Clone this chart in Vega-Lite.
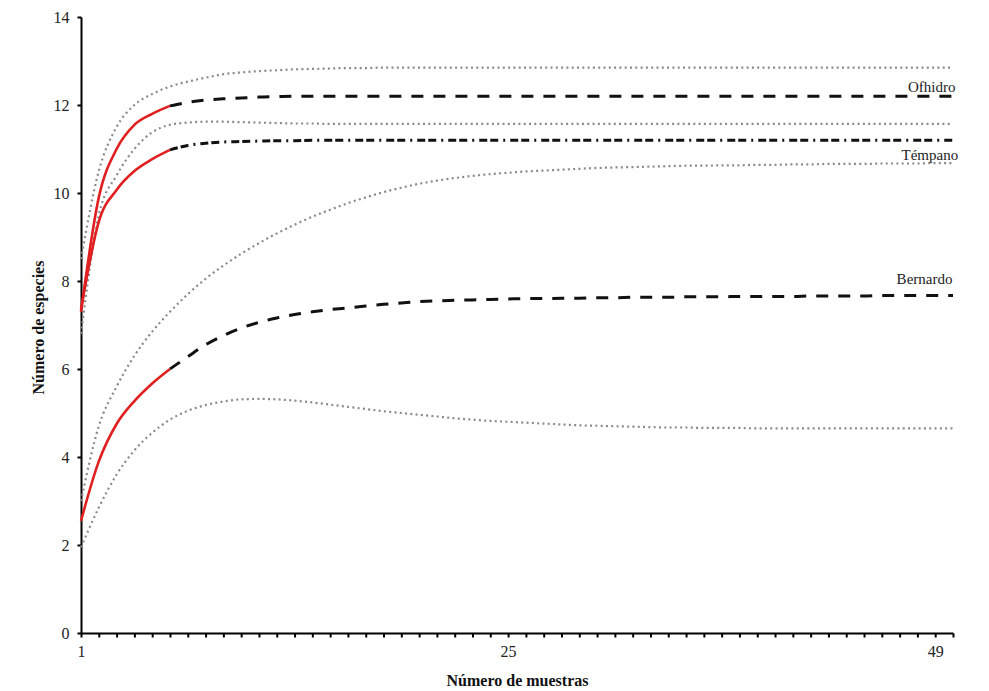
{
  "$schema": "https://vega.github.io/schema/vega-lite/v6.json",
  "width": 872,
  "height": 616,
  "autosize": "none",
  "padding": {"left": 81, "top": 17, "right": 36, "bottom": 58},
  "background": "white",
  "config": {"view": {"stroke": null}, "font": "Liberation Serif"},
  "data": {"values": [
    {"x": 1, "of_obs": 7.3, "te_obs": 7.35, "be_obs": 2.55, "ic1": 8.5, "ic2": 6.8, "ic3": 3.0, "ic4": 1.95},
    {"x": 2, "of_obs": 9.9, "te_obs": 9.35, "be_obs": 3.9, "ic1": 10.5, "ic2": 9.5, "ic3": 4.7, "ic4": 2.85},
    {"x": 3, "of_obs": 11.0, "te_obs": 10.07, "be_obs": 4.75, "ic1": 11.5, "ic2": 10.4, "ic3": 5.6, "ic4": 3.6},
    {"x": 4, "of_obs": 11.55, "te_obs": 10.5, "be_obs": 5.27, "ic1": 12.0, "ic2": 11.0, "ic3": 6.3, "ic4": 4.15},
    {"x": 5, "of_obs": 11.8, "te_obs": 10.77, "be_obs": 5.67, "ic1": 12.25, "ic2": 11.38, "ic3": 6.85, "ic4": 4.55},
    {"x": 6, "of_obs": 11.98, "of_ext": 11.98, "te_obs": 10.98, "te_ext": 10.98, "be_obs": 6.0, "be_ext": 6.0, "ic1": 12.42, "ic2": 11.55, "ic3": 7.3, "ic4": 4.85},
    {"x": 7, "of_ext": 12.06, "te_ext": 11.08, "be_ext": 6.28, "ic1": 12.53, "ic2": 11.6, "ic3": 7.7, "ic4": 5.05},
    {"x": 8, "of_ext": 12.11, "te_ext": 11.13, "be_ext": 6.55, "ic1": 12.62, "ic2": 11.62, "ic3": 8.05, "ic4": 5.18},
    {"x": 9, "of_ext": 12.14, "te_ext": 11.16, "be_ext": 6.76, "ic1": 12.7, "ic2": 11.62, "ic3": 8.35, "ic4": 5.26},
    {"x": 10, "of_ext": 12.16, "te_ext": 11.17, "be_ext": 6.93, "ic1": 12.74, "ic2": 11.61, "ic3": 8.62, "ic4": 5.31},
    {"x": 11, "of_ext": 12.18, "te_ext": 11.18, "be_ext": 7.06, "ic1": 12.77, "ic2": 11.6, "ic3": 8.86, "ic4": 5.32},
    {"x": 12, "of_ext": 12.19, "te_ext": 11.19, "be_ext": 7.16, "ic1": 12.79, "ic2": 11.59, "ic3": 9.08, "ic4": 5.31},
    {"x": 13, "of_ext": 12.2, "te_ext": 11.19, "be_ext": 7.24, "ic1": 12.81, "ic2": 11.58, "ic3": 9.28, "ic4": 5.28},
    {"x": 14, "of_ext": 12.2, "te_ext": 11.2, "be_ext": 7.3, "ic1": 12.82, "ic2": 11.58, "ic3": 9.46, "ic4": 5.24},
    {"x": 15, "of_ext": 12.2, "te_ext": 11.2, "be_ext": 7.35, "ic1": 12.83, "ic2": 11.57, "ic3": 9.62, "ic4": 5.19},
    {"x": 16, "of_ext": 12.2, "te_ext": 11.2, "be_ext": 7.39, "ic1": 12.84, "ic2": 11.57, "ic3": 9.77, "ic4": 5.14},
    {"x": 17, "of_ext": 12.2, "te_ext": 11.2, "be_ext": 7.43, "ic1": 12.84, "ic2": 11.57, "ic3": 9.9, "ic4": 5.09},
    {"x": 18, "of_ext": 12.2, "te_ext": 11.2, "be_ext": 7.47, "ic1": 12.85, "ic2": 11.57, "ic3": 10.02, "ic4": 5.04},
    {"x": 19, "of_ext": 12.2, "te_ext": 11.2, "be_ext": 7.5, "ic1": 12.85, "ic2": 11.57, "ic3": 10.12, "ic4": 5.0},
    {"x": 20, "of_ext": 12.2, "te_ext": 11.2, "be_ext": 7.53, "ic1": 12.85, "ic2": 11.57, "ic3": 10.21, "ic4": 4.96},
    {"x": 21, "of_ext": 12.2, "te_ext": 11.2, "be_ext": 7.55, "ic1": 12.85, "ic2": 11.57, "ic3": 10.28, "ic4": 4.92},
    {"x": 22, "of_ext": 12.2, "te_ext": 11.2, "be_ext": 7.56, "ic1": 12.85, "ic2": 11.57, "ic3": 10.34, "ic4": 4.88},
    {"x": 23, "of_ext": 12.2, "te_ext": 11.2, "be_ext": 7.57, "ic1": 12.85, "ic2": 11.57, "ic3": 10.39, "ic4": 4.85},
    {"x": 24, "of_ext": 12.2, "te_ext": 11.2, "be_ext": 7.58, "ic1": 12.85, "ic2": 11.57, "ic3": 10.43, "ic4": 4.82},
    {"x": 25, "of_ext": 12.2, "te_ext": 11.2, "be_ext": 7.59, "ic1": 12.85, "ic2": 11.57, "ic3": 10.46, "ic4": 4.8},
    {"x": 26, "of_ext": 12.2, "te_ext": 11.2, "be_ext": 7.6, "ic1": 12.85, "ic2": 11.57, "ic3": 10.49, "ic4": 4.78},
    {"x": 27, "of_ext": 12.2, "te_ext": 11.2, "be_ext": 7.6, "ic1": 12.85, "ic2": 11.57, "ic3": 10.51, "ic4": 4.76},
    {"x": 28, "of_ext": 12.2, "te_ext": 11.2, "be_ext": 7.61, "ic1": 12.85, "ic2": 11.57, "ic3": 10.53, "ic4": 4.74},
    {"x": 29, "of_ext": 12.2, "te_ext": 11.2, "be_ext": 7.61, "ic1": 12.85, "ic2": 11.57, "ic3": 10.55, "ic4": 4.72},
    {"x": 30, "of_ext": 12.2, "te_ext": 11.2, "be_ext": 7.62, "ic1": 12.85, "ic2": 11.57, "ic3": 10.57, "ic4": 4.71},
    {"x": 31, "of_ext": 12.2, "te_ext": 11.2, "be_ext": 7.62, "ic1": 12.85, "ic2": 11.57, "ic3": 10.58, "ic4": 4.7},
    {"x": 32, "of_ext": 12.2, "te_ext": 11.2, "be_ext": 7.63, "ic1": 12.85, "ic2": 11.57, "ic3": 10.59, "ic4": 4.69},
    {"x": 33, "of_ext": 12.2, "te_ext": 11.2, "be_ext": 7.63, "ic1": 12.85, "ic2": 11.57, "ic3": 10.6, "ic4": 4.68},
    {"x": 34, "of_ext": 12.2, "te_ext": 11.2, "be_ext": 7.63, "ic1": 12.85, "ic2": 11.57, "ic3": 10.61, "ic4": 4.67},
    {"x": 35, "of_ext": 12.2, "te_ext": 11.2, "be_ext": 7.64, "ic1": 12.85, "ic2": 11.57, "ic3": 10.62, "ic4": 4.67},
    {"x": 36, "of_ext": 12.2, "te_ext": 11.2, "be_ext": 7.64, "ic1": 12.85, "ic2": 11.57, "ic3": 10.62, "ic4": 4.66},
    {"x": 37, "of_ext": 12.2, "te_ext": 11.2, "be_ext": 7.64, "ic1": 12.85, "ic2": 11.57, "ic3": 10.63, "ic4": 4.66},
    {"x": 38, "of_ext": 12.2, "te_ext": 11.2, "be_ext": 7.65, "ic1": 12.85, "ic2": 11.57, "ic3": 10.63, "ic4": 4.66},
    {"x": 39, "of_ext": 12.2, "te_ext": 11.2, "be_ext": 7.65, "ic1": 12.85, "ic2": 11.57, "ic3": 10.64, "ic4": 4.65},
    {"x": 40, "of_ext": 12.2, "te_ext": 11.2, "be_ext": 7.65, "ic1": 12.85, "ic2": 11.57, "ic3": 10.64, "ic4": 4.65},
    {"x": 41, "of_ext": 12.2, "te_ext": 11.2, "be_ext": 7.65, "ic1": 12.85, "ic2": 11.57, "ic3": 10.65, "ic4": 4.65},
    {"x": 42, "of_ext": 12.2, "te_ext": 11.2, "be_ext": 7.66, "ic1": 12.85, "ic2": 11.57, "ic3": 10.65, "ic4": 4.65},
    {"x": 43, "of_ext": 12.2, "te_ext": 11.2, "be_ext": 7.66, "ic1": 12.85, "ic2": 11.57, "ic3": 10.66, "ic4": 4.65},
    {"x": 44, "of_ext": 12.2, "te_ext": 11.2, "be_ext": 7.66, "ic1": 12.85, "ic2": 11.57, "ic3": 10.66, "ic4": 4.65},
    {"x": 45, "of_ext": 12.2, "te_ext": 11.2, "be_ext": 7.66, "ic1": 12.85, "ic2": 11.57, "ic3": 10.66, "ic4": 4.65},
    {"x": 46, "of_ext": 12.2, "te_ext": 11.2, "be_ext": 7.67, "ic1": 12.85, "ic2": 11.57, "ic3": 10.67, "ic4": 4.65},
    {"x": 47, "of_ext": 12.2, "te_ext": 11.2, "be_ext": 7.67, "ic1": 12.85, "ic2": 11.57, "ic3": 10.67, "ic4": 4.65},
    {"x": 48, "of_ext": 12.2, "te_ext": 11.2, "be_ext": 7.67, "ic1": 12.85, "ic2": 11.57, "ic3": 10.67, "ic4": 4.65},
    {"x": 49, "of_ext": 12.2, "te_ext": 11.2, "be_ext": 7.67, "ic1": 12.85, "ic2": 11.57, "ic3": 10.68, "ic4": 4.65},
    {"x": 50, "of_ext": 12.2, "te_ext": 11.2, "be_ext": 7.67, "ic1": 12.85, "ic2": 11.57, "ic3": 10.68, "ic4": 4.65}
  ]},
  "transform": [
    {"fold": ["of_obs", "of_ext", "te_obs", "te_ext", "be_obs", "be_ext", "ic1", "ic2", "ic3", "ic4"], "as": ["curva", "valor"]},
    {"filter": "isValid(datum.valor)"}
  ],
  "encoding": {
    "x": {
      "field": "x", "type": "quantitative",
      "scale": {"domain": [1, 50], "nice": false, "zero": false},
      "axis": {
        "title": "Número de muestras",
        "values": [1,2,3,4,5,6,7,8,9,10,11,12,13,14,15,16,17,18,19,20,21,22,23,24,25,26,27,28,29,30,31,32,33,34,35,36,37,38,39,40,41,42,43,44,45,46,47,48,49,50],
        "labelExpr": "datum.value == 1 || datum.value == 25 || datum.value == 49 ? datum.label : ''",
        "grid": false,
        "domainColor": "#000", "domainWidth": 2,
        "tickColor": "#000", "tickWidth": 2, "tickSize": 4, "tickRound": false,
        "labelFont": "Liberation Serif", "labelFontSize": 16, "labelColor": "#222", "labelPadding": 6,
        "labelFlush": false, "labelOverlap": false,
        "titleFont": "Liberation Serif", "titleFontSize": 16, "titleFontWeight": "bold", "titleColor": "#111",
        "titleX": 436, "titleY": 47, "titleBaseline": "middle", "titleAnchor": null
      }
    },
    "y": {
      "field": "valor", "type": "quantitative",
      "scale": {"domain": [0, 14], "nice": false},
      "axis": {
        "title": "Número de especies",
        "values": [0, 2, 4, 6, 8, 10, 12, 14],
        "grid": false,
        "domainColor": "#000", "domainWidth": 2,
        "tickColor": "#000", "tickWidth": 2, "tickSize": 4,
        "labelFont": "Liberation Serif", "labelFontSize": 16, "labelColor": "#222", "labelPadding": 8,
        "titleFont": "Liberation Serif", "titleFontSize": 16, "titleFontWeight": "bold", "titleColor": "#111",
        "titleX": -43, "titleY": 310, "titleBaseline": "middle"
      }
    }
  },
  "layer": [
    {
      "transform": [{"filter": {"field": "curva", "oneOf": ["ic1", "ic2", "ic3", "ic4"]}}],
      "mark": {"type": "line", "color": "#8a8a8a", "strokeWidth": 2.2, "strokeDash": [2, 3.3], "interpolate": "monotone"},
      "encoding": {"detail": {"field": "curva"}}
    },
    {
      "transform": [{"filter": {"field": "curva", "oneOf": ["of_ext", "be_ext"]}}],
      "mark": {"type": "line", "color": "#111", "strokeWidth": 3, "strokeDash": [12, 10], "interpolate": "monotone"},
      "encoding": {"detail": {"field": "curva"}}
    },
    {
      "transform": [{"filter": {"field": "curva", "equal": "te_ext"}}],
      "mark": {"type": "line", "color": "#111", "strokeWidth": 3, "strokeDash": [8, 3, 8, 5, 2, 5], "interpolate": "monotone"},
      "encoding": {}
    },
    {
      "transform": [{"filter": {"field": "curva", "oneOf": ["of_obs", "te_obs", "be_obs"]}}],
      "mark": {"type": "line", "color": "#e02020", "strokeWidth": 2.6, "interpolate": "monotone"},
      "encoding": {"detail": {"field": "curva"}}
    },
    {
      "data": {"values": [
        {"x": 48.8, "valor": 12.41, "etiqueta": "Ofhidro"},
        {"x": 48.7, "valor": 10.86, "etiqueta": "Témpano"},
        {"x": 48.4, "valor": 8.05, "etiqueta": "Bernardo"}
      ]},
      "transform": [],
      "mark": {"type": "text", "font": "Liberation Serif", "fontSize": 15, "color": "#222", "align": "center", "baseline": "middle"},
      "encoding": {"text": {"field": "etiqueta"}}
    }
  ]
}
